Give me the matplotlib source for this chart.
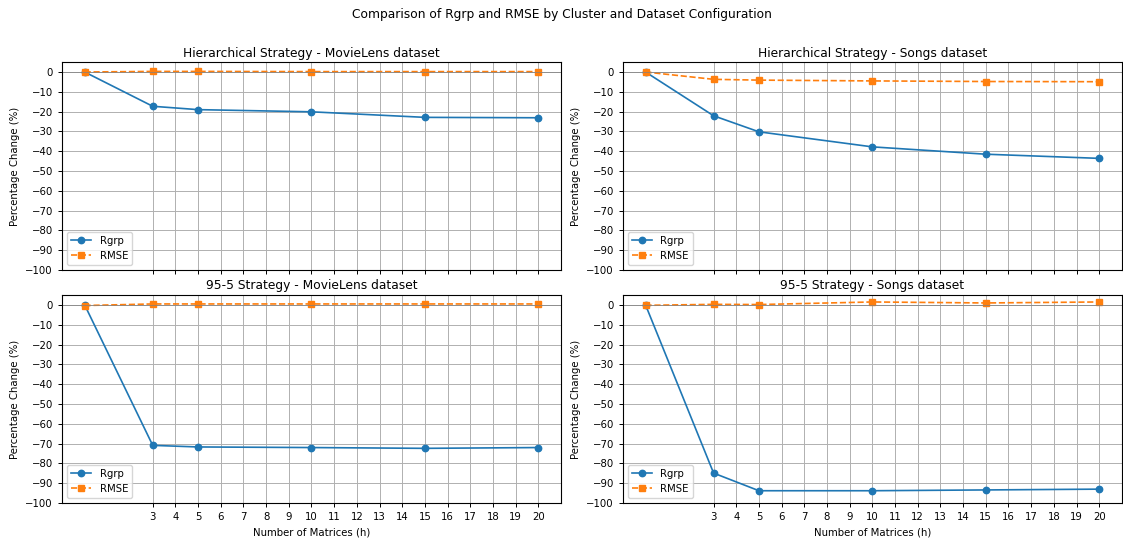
import matplotlib.pyplot as plt
import numpy as np

clusters = [0, 3, 5, 10, 15, 20]
xtick_vals = list(range(3, 21))

titles = ['Hierarchical Strategy - MovieLens dataset',
          'Hierarchical Strategy - Songs dataset',
          '95-5 Strategy - MovieLens dataset',
          '95-5 Strategy - Songs dataset']

rgrp_hier_movie = [0, -17.3, -19.0, -20.1, -22.9, -23.1]
rmse_hier_movie = [0, 0.3, 0.3, 0.2, 0.2, 0.2]
rgrp_hier_songs = [0, -22.1, -30.2, -37.8, -41.5, -43.6]
rmse_hier_songs = [0, -3.7, -4.1, -4.5, -4.8, -4.9]
rgrp_955_movie = [0, -70.9, -71.7, -72.0, -72.4, -72.0]
rmse_955_movie = [-0.3, 0.5, 0.5, 0.5, 0.5, 0.5]
rgrp_955_songs = [0, -84.9, -93.8, -93.8, -93.4, -93.0]
rmse_955_songs = [-0.2, 0.3, 0.2, 1.5, 1.0, 1.5]

rgrp_all = [rgrp_hier_movie, rgrp_hier_songs, rgrp_955_movie, rgrp_955_songs]
rmse_all = [rmse_hier_movie, rmse_hier_songs, rmse_955_movie, rmse_955_songs]

fig, axes = plt.subplots(2, 2, figsize=(11.23, 5.4), dpi=100, sharex=True)
fig.subplots_adjust(left=0.0552, right=0.999, top=0.885, bottom=0.0685,
                    wspace=0.124, hspace=0.12)
fig.suptitle('Comparison of Rgrp and RMSE by Cluster and Dataset Configuration',
             fontsize=8.8, y=0.985)

for ax, title, rg, rm in zip(axes.flat, titles, rgrp_all, rmse_all):
    ax.plot(clusters, rg, marker='o', linestyle='-', color='#1f77b4',
            linewidth=1.2, markersize=4.6, label='Rgrp')
    ax.plot(clusters, rm, marker='s', linestyle='--', color='#ff7f0e',
            linewidth=1.2, markersize=4.6, label='RMSE')
    ax.axhline(0, color='gray', linewidth=0.5)
    ax.set_title(title, fontsize=8.8, pad=4)
    ax.set_ylabel('Percentage Change (%)', fontsize=7.3)
    ax.set_ylim(-100, 5)
    ax.set_yticks(np.arange(-100, 1, 10))
    ax.set_xticks(xtick_vals)
    ax.tick_params(labelsize=7.3, width=0.7, length=3)
    ax.grid(True, linewidth=0.7)
    ax.legend(loc='lower left', fontsize=7.3)
    for s in ax.spines.values():
        s.set_linewidth(0.8)

for ax in axes[1]:
    ax.set_xlabel('Number of Matrices (h)', fontsize=7.3)

fig.savefig('out.png', dpi=100)
